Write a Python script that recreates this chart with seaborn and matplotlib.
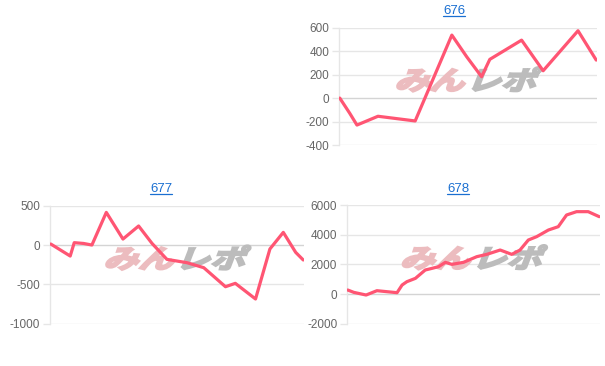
import matplotlib
matplotlib.use("Agg")
import matplotlib.pyplot as plt
import seaborn as sns
import pandas as pd
from matplotlib.textpath import TextPath
from matplotlib.patches import PathPatch
from matplotlib.font_manager import FontProperties
from matplotlib.transforms import Affine2D, ScaledTranslation

# ---- data ----
titles = ["676", "677", "678"]

x676 = [0, 3.9, 6.7, 14.9, 29.4, 43.7, 49.5, 55.3, 58.5, 70.9, 79.3, 92.9, 100]
y676 = [0, -130, -230, -155, -195, 537, 352, 182, 330, 494, 233, 574, 324]

x677 = [0, 7.7, 9.3, 13.0, 16.3, 22.0, 28.6, 34.8, 40.1, 46.0, 54.0, 60.6, 69.2, 73.1, 81.1, 86.8, 92.1, 97.0, 100]
y677 = [13, -140, 30, 20, 0, 415, 76, 242, 21, -182, -225, -288, -530, -487, -686, -50, 161, -93, -190]

x678 = [0, 2.4, 7.3, 11.6, 15.6, 19.6, 21.6, 23.5, 26.9, 30.8, 33.5, 36.1, 38.8, 41.4, 46.0, 51.3, 55.3, 60.6, 65.2, 68.5, 71.8, 75.1, 79.8, 83.7, 87.0, 91.0, 95.6, 100]
y678 = [270, 112, -67, 225, 157, 90, 607, 831, 1056, 1618, 1730, 1843, 2135, 2000, 2135, 2517, 2674, 2966, 2674, 2966, 3640, 3865, 4315, 4539, 5326, 5551, 5551, 5213]

yticks676 = [-400, -200, 0, 200, 400, 600]
yticks677 = [-1000, -500, 0, 500]
yticks678 = [-2000, 0, 2000, 4000, 6000]

sns.set_theme(style="white")
plt.rcParams['font.family'] = ['Liberation Sans', 'DejaVu Sans']

W, H = 605, 366
fig = plt.figure(figsize=(W / 100, H / 100), dpi=100)

def px_axes(l, r, t, b):
    return [l / W, 1 - b / H, (r - l) / W, (b - t) / H]

specs = [
    (px_axes(339, 597, 27.7, 145), x676, y676, yticks676, titles[0], (454, 11)),
    (px_axes(50, 304, 205.7, 323.7), x677, y677, yticks677, titles[1], (161, 189)),
    (px_axes(347, 600, 205, 323.7), x678, y678, yticks678, titles[2], (458, 189)),
]

line_color = "#ff5573"
grid_color = "#e6e6e6"

def watermark(ax):
    fp = FontProperties(family="Noto Sans CJK JP", weight="bold")
    parts = [("みん", "#ecbcbf", -2.0), ("レポ", "#bcbcbc", 0.05)]
    for txt, col, xoff in parts:
        tp = TextPath((0, 0), txt, size=1, prop=fp)
        tr = (Affine2D().translate(xoff, -0.4).skew_deg(16, 0).scale(35, 26)
              + ScaledTranslation(0.5, 0.56, ax.transAxes))
        patch = PathPatch(tp, facecolor=col, edgecolor=col, linewidth=1.6,
                          joinstyle="miter", transform=tr, zorder=1)
        ax.add_artist(patch)

for rect, xs, ys, yt, title, tpos in specs:
    ax = fig.add_axes(rect)
    df = pd.DataFrame({"x": xs, "y": ys})
    watermark(ax)
    sns.lineplot(data=df, x="x", y="y", ax=ax, color=line_color, linewidth=2.3,
                 zorder=3, solid_joinstyle="round", solid_capstyle="round")
    ax.set_xlim(-0.3, 100.3)
    ax.set_ylim(yt[0], yt[-1])
    ax.set_yticks(yt)
    ax.set_yticklabels([str(v) for v in yt])
    ax.set_xticks([])
    ax.set_xlabel("")
    ax.set_ylabel("")
    ax.grid(False)
    for v in yt:
        ax.axhline(v, color=("#d4d4d4" if v == 0 else grid_color), linewidth=1.0, zorder=0.5)
    for s in ["top", "right", "bottom"]:
        ax.spines[s].set_visible(False)
    ax.spines["left"].set_color(grid_color)
    ax.spines["left"].set_linewidth(1.0)
    ax.tick_params(axis="y", length=5, width=1, color=grid_color, pad=2,
                   labelsize=8.5, labelcolor="#666666", left=True)
    ax.patch.set_alpha(0)
    fig.text(tpos[0] / W, 1 - tpos[1] / H, title, ha="center", va="center",
             color="#1a6fd1", fontsize=9.5, fontfamily="Liberation Sans")

fig.canvas.draw()
renderer = fig.canvas.get_renderer()
inv = fig.transFigure.inverted()
for t in list(fig.texts):
    bb = t.get_window_extent(renderer)
    (x0, y0), (x1, y1) = inv.transform([(bb.x0, bb.y0), (bb.x1, bb.y1)])
    fig.add_artist(plt.Line2D([x0, x1], [y0 + 0.003, y0 + 0.003], transform=fig.transFigure,
                              color="#1a6fd1", linewidth=0.9))

fig.savefig("out.png", dpi=100)
